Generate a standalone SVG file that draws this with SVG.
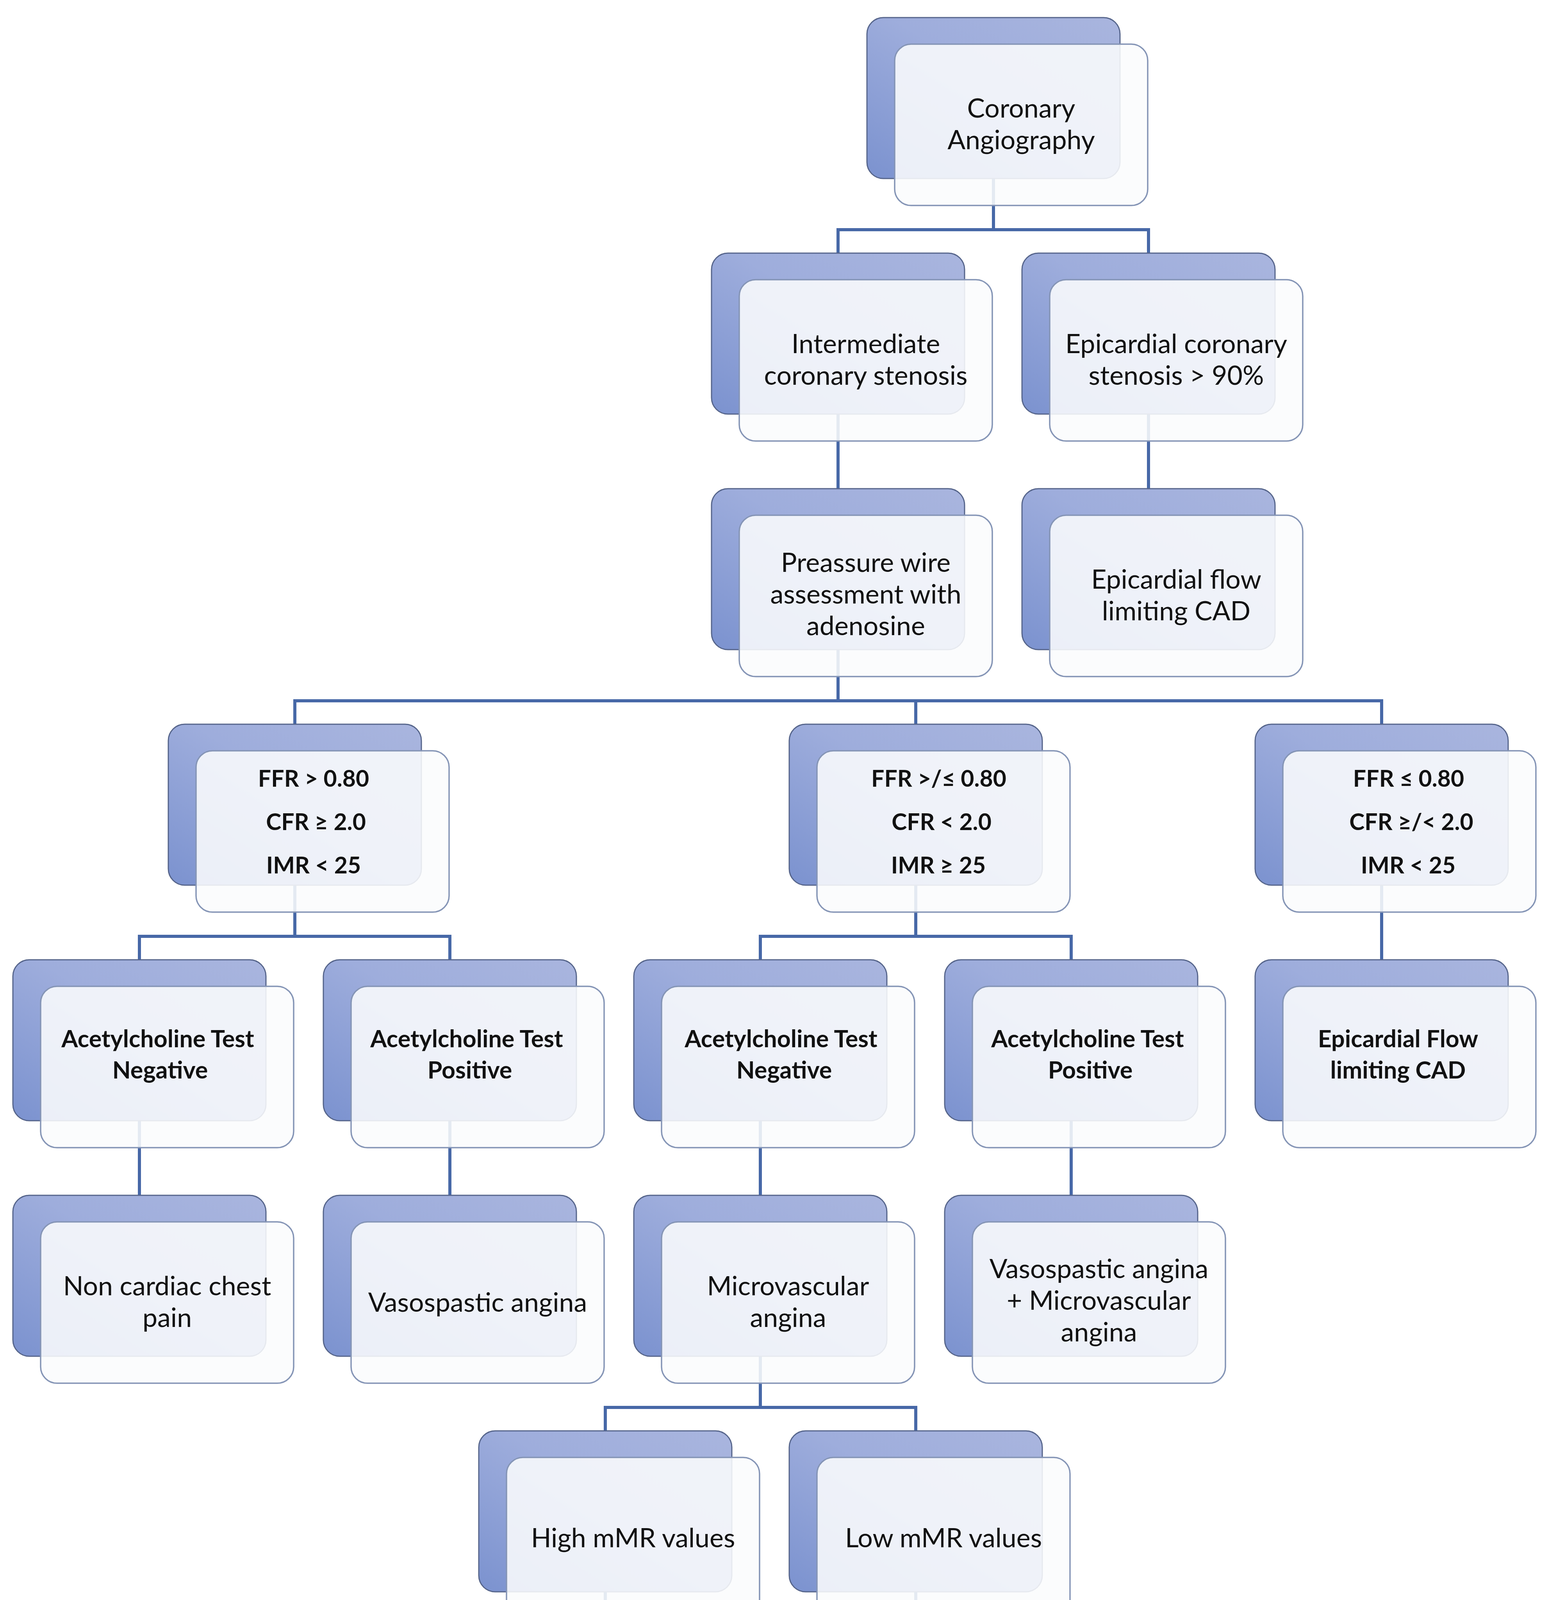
<svg xmlns="http://www.w3.org/2000/svg" width="3964" height="4798" viewBox="0 0 3964 4798">
<defs>
<linearGradient id="bk" x1="1" y1="0" x2="0" y2="1">
<stop offset="0" stop-color="#a9b5de"/>
<stop offset="0.45" stop-color="#9eaddc"/>
<stop offset="1" stop-color="#7b92cf"/>
</linearGradient>
<rect id="back" width="648" height="412" rx="42" ry="42"/>
<rect id="front" width="648" height="413" rx="42" ry="42"/>
</defs>
<style>
.bk{fill:url(#bk);stroke:#56658b;stroke-width:3}
.fr{fill:#fbfcfd;fill-opacity:0.88;stroke:#8595b6;stroke-width:3.5}
.cn{fill:none;stroke:#4768a7;stroke-width:8;stroke-linejoin:miter}
.t{font-family:Lato,"Open Sans","Liberation Sans",sans-serif;font-size:68px;fill:#111;text-anchor:middle}
.b{font-weight:bold;font-size:61px}
.f{font-weight:bold;font-size:59px}
</style>
<rect width="3964" height="4798" fill="#ffffff"/>
<g id="connectors">
<path class="cn" d="M2544 457V588M2146 648V588H2941V648"/>
<path class="cn" d="M2146 1060V1251"/>
<path class="cn" d="M2941 1060V1251"/>
<path class="cn" d="M2146 1663V1794M755 1854V1794H3538V1854M2345 1794V1854"/>
<path class="cn" d="M755 2266V2397M357 2457V2397H1152V2457"/>
<path class="cn" d="M2345 2266V2397M1947 2457V2397H2743V2457"/>
<path class="cn" d="M3538 2266V2457"/>
<path class="cn" d="M357 2869V3060"/>
<path class="cn" d="M1152 2869V3060"/>
<path class="cn" d="M1947 2869V3060"/>
<path class="cn" d="M2743 2869V3060"/>
<path class="cn" d="M1947 3472V3603M1550 3663V3603H2345V3663"/>
<path class="cn" d="M1550 4075V4266"/>
<path class="cn" d="M2345 4075V4266"/>
</g>
<g id="n-coronary"><use href="#back" class="bk" x="2220" y="45"/><use href="#front" class="fr" x="2291" y="113"/>
<text class="t" x="2615" y="301">Coronary</text><text class="t" x="2615" y="382">Angiography</text></g>
<g id="n-intermediate"><use href="#back" class="bk" x="1822" y="648"/><use href="#front" class="fr" x="1893" y="716"/>
<text class="t" x="2217" y="904">Intermediate</text><text class="t" x="2217" y="985">coronary stenosis</text></g>
<g id="n-epi-stenosis"><use href="#back" class="bk" x="2617" y="648"/><use href="#front" class="fr" x="2688" y="716"/>
<text class="t" x="3012" y="904">Epicardial coronary</text><text class="t" x="3012" y="985">stenosis &gt; 90%</text></g>
<g id="n-pressure"><use href="#back" class="bk" x="1822" y="1251"/><use href="#front" class="fr" x="1893" y="1319"/>
<text class="t" x="2217" y="1464">Preassure wire</text><text class="t" x="2217" y="1545">assessment with</text><text class="t" x="2217" y="1626">adenosine</text></g>
<g id="n-epi-flow"><use href="#back" class="bk" x="2617" y="1251"/><use href="#front" class="fr" x="2688" y="1319"/>
<text class="t" x="3012" y="1507">Epicardial flow</text><text class="t" x="3012" y="1588">limiting CAD</text></g>
<g id="n-ffr-left"><use href="#back" class="bk" x="431" y="1854"/><use href="#front" class="fr" x="502" y="1922"/>
<text class="t f" x="803" y="2014">FFR &gt; 0.80</text><text class="t f" x="809" y="2125">CFR ≥ 2.0</text><text class="t f" x="803" y="2236">IMR &lt; 25</text></g>
<g id="n-ffr-mid"><use href="#back" class="bk" x="2021" y="1854"/><use href="#front" class="fr" x="2092" y="1922"/>
<text class="t f" x="2404" y="2014">FFR &gt;/≤ 0.80</text><text class="t f" x="2411" y="2125">CFR &lt; 2.0</text><text class="t f" x="2403" y="2236">IMR ≥ 25</text></g>
<g id="n-ffr-right"><use href="#back" class="bk" x="3214" y="1854"/><use href="#front" class="fr" x="3285" y="1922"/>
<text class="t f" x="3607" y="2014">FFR ≤ 0.80</text><text class="t f" x="3614" y="2125">CFR ≥/&lt; 2.0</text><text class="t f" x="3606" y="2236">IMR &lt; 25</text></g>
<g id="n-ach-neg-1"><use href="#back" class="bk" x="33" y="2457"/><use href="#front" class="fr" x="104" y="2525"/>
<text class="t b" x="404" y="2681">Acetylcholine Test</text><text class="t b" x="410" y="2761">Negative</text></g>
<g id="n-ach-pos-1"><use href="#back" class="bk" x="828" y="2457"/><use href="#front" class="fr" x="899" y="2525"/>
<text class="t b" x="1195" y="2681">Acetylcholine Test</text><text class="t b" x="1203" y="2761">Positive</text></g>
<g id="n-ach-neg-2"><use href="#back" class="bk" x="1623" y="2457"/><use href="#front" class="fr" x="1694" y="2525"/>
<text class="t b" x="2000" y="2681">Acetylcholine Test</text><text class="t b" x="2008" y="2761">Negative</text></g>
<g id="n-ach-pos-2"><use href="#back" class="bk" x="2419" y="2457"/><use href="#front" class="fr" x="2490" y="2525"/>
<text class="t b" x="2785" y="2681">Acetylcholine Test</text><text class="t b" x="2792" y="2761">Positive</text></g>
<g id="n-epi-flow-2"><use href="#back" class="bk" x="3214" y="2457"/><use href="#front" class="fr" x="3285" y="2525"/>
<text class="t b" x="3580" y="2681">Epicardial Flow</text><text class="t b" x="3580" y="2761">limiting CAD</text></g>
<g id="n-noncardiac"><use href="#back" class="bk" x="33" y="3060"/><use href="#front" class="fr" x="104" y="3128"/>
<text class="t" x="428" y="3316">Non cardiac chest</text><text class="t" x="428" y="3397">pain</text></g>
<g id="n-vasospastic"><use href="#back" class="bk" x="828" y="3060"/><use href="#front" class="fr" x="899" y="3128"/>
<text class="t" x="1223" y="3358">Vasospastic angina</text></g>
<g id="n-microvascular"><use href="#back" class="bk" x="1623" y="3060"/><use href="#front" class="fr" x="1694" y="3128"/>
<text class="t" x="2018" y="3316">Microvascular</text><text class="t" x="2018" y="3397">angina</text></g>
<g id="n-vaso-micro"><use href="#back" class="bk" x="2419" y="3060"/><use href="#front" class="fr" x="2490" y="3128"/>
<text class="t" x="2814" y="3272">Vasospastic angina</text><text class="t" x="2814" y="3353">+ Microvascular</text><text class="t" x="2814" y="3434">angina</text></g>
<g id="n-high-mmr"><use href="#back" class="bk" x="1226" y="3663"/><use href="#front" class="fr" x="1297" y="3731"/>
<text class="t" x="1621" y="3961">High mMR values</text></g>
<g id="n-low-mmr"><use href="#back" class="bk" x="2021" y="3663"/><use href="#front" class="fr" x="2092" y="3731"/>
<text class="t" x="2416" y="3961">Low mMR values</text></g>
<g id="n-structural"><use href="#back" class="bk" x="1226" y="4266"/><use href="#front" class="fr" x="1297" y="4334"/>
<text class="t" x="1621" y="4564">Structural CMD</text></g>
<g id="n-functional"><use href="#back" class="bk" x="2021" y="4266"/><use href="#front" class="fr" x="2092" y="4334"/>
<text class="t" x="2416" y="4564">Functional CMD</text></g>
</svg>
